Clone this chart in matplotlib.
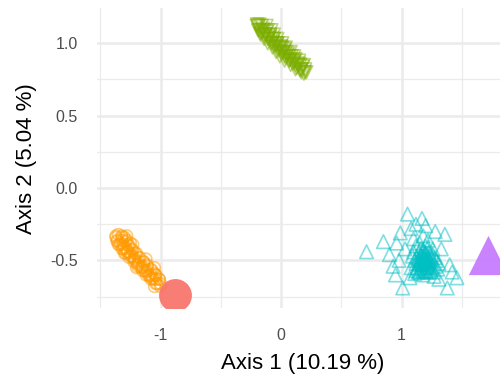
import matplotlib
matplotlib.use("Agg")
import matplotlib.pyplot as plt
from matplotlib.ticker import MultipleLocator

plt.rcParams['font.family'] = ['Liberation Sans', 'DejaVu Sans']

# ordination scores
green_x = [-0.19, -0.17, -0.18, -0.15, -0.14, -0.16, -0.12, -0.11, -0.13, -0.09, -0.08,
           -0.10, -0.06, -0.05, -0.07, -0.03, -0.02, -0.04, 0.00, 0.01, -0.01, 0.03,
           0.04, 0.02, 0.06, 0.07, 0.05, 0.09, 0.10, 0.08, 0.12, 0.13, 0.11, 0.15,
           0.16, 0.14, 0.18, 0.20, 0.17, -0.20, -0.18, 0.19,
           -0.20, -0.16, -0.12, -0.19, -0.15, -0.11, -0.08, -0.17, -0.13, -0.09, -0.06,
           -0.14, -0.10, -0.06, -0.03, -0.11, -0.07, -0.03, 0.01, -0.07, -0.03, 0.01,
           0.04, -0.04, 0.00, 0.04, 0.08, -0.01, 0.03, 0.07, 0.11, 0.03, 0.07, 0.11,
           0.15, 0.08, 0.12, 0.16, 0.19, 0.12, 0.16, 0.20, 0.17, 0.21]
green_y = [1.12, 1.07, 1.13, 1.10, 1.05, 1.08, 1.08, 1.03, 1.06, 1.05, 1.00, 1.04,
           1.03, 0.98, 1.01, 1.00, 0.95, 0.99, 0.98, 0.93, 0.97, 0.96, 0.90, 0.94,
           0.93, 0.88, 0.92, 0.91, 0.86, 0.89, 0.89, 0.83, 0.87, 0.86, 0.81, 0.85,
           0.84, 0.80, 0.82, 1.13, 1.09, 0.79,
           1.12, 1.12, 1.12, 1.09, 1.09, 1.09, 1.09, 1.06, 1.06, 1.06, 1.06,
           1.03, 1.03, 1.03, 1.03, 1.00, 1.00, 1.00, 1.00, 0.97, 0.97, 0.97,
           0.97, 0.94, 0.94, 0.94, 0.94, 0.91, 0.91, 0.91, 0.91, 0.88, 0.88, 0.88,
           0.88, 0.85, 0.85, 0.85, 0.85, 0.82, 0.82, 0.82, 0.80, 0.80]

orange_x = [-1.37, -1.35, -1.36, -1.33, -1.32, -1.34, -1.30, -1.29, -1.31, -1.27, -1.26,
            -1.28, -1.24, -1.23, -1.25, -1.21, -1.20, -1.22, -1.18, -1.17, -1.19, -1.15,
            -1.14, -1.16, -1.12, -1.11, -1.13, -1.09, -1.08, -1.10, -1.06, -1.05, -1.07,
            -1.03, -1.01, -1.04, -1.00, -1.30, -1.25, -1.12, -1.30, -1.20, -1.05,
            -1.37, -1.32, -1.28, -1.36, -1.32, -1.28, -1.35, -1.31, -1.27, -1.23,
            -1.32, -1.28, -1.24, -1.29, -1.25, -1.21, -1.26, -1.22, -1.18, -1.22,
            -1.18, -1.14, -1.19, -1.15, -1.11, -1.15, -1.11, -1.07, -1.12, -1.08,
            -1.04, -1.08, -1.04, -1.01, -1.04, -1.00, -1.05]
orange_y = [-0.34, -0.32, -0.37, -0.38, -0.34, -0.39, -0.41, -0.37, -0.42, -0.44, -0.40,
            -0.44, -0.47, -0.43, -0.47, -0.50, -0.45, -0.49, -0.53, -0.48, -0.52, -0.55,
            -0.51, -0.55, -0.58, -0.53, -0.57, -0.61, -0.56, -0.60, -0.63, -0.59, -0.62,
            -0.66, -0.63, -0.60, -0.68, -0.34, -0.38, -0.49, -0.45, -0.55, -0.55,
            -0.33, -0.33, -0.33, -0.36, -0.36, -0.36, -0.39, -0.39, -0.39, -0.39,
            -0.42, -0.42, -0.42, -0.45, -0.45, -0.45, -0.48, -0.48, -0.48, -0.51,
            -0.51, -0.51, -0.54, -0.54, -0.54, -0.57, -0.57, -0.57, -0.60, -0.60,
            -0.60, -0.63, -0.63, -0.63, -0.66, -0.66, -0.68]

teal_x = [0.71, 0.85, 0.90, 0.93, 0.96, 0.99, 1.05, 1.17, 1.28, 1.36, 1.01, 1.38,
          1.46, 1.40, 1.07, 1.12, 1.08, 1.20, 1.33, 1.42, 0.98, 1.03, 1.31, 0.95,
          1.10, 1.12, 1.15, 1.18, 1.20, 1.22, 1.14, 1.17, 1.20, 1.23, 1.26, 1.11,
          1.14, 1.17, 1.20, 1.23, 1.26, 1.29, 1.08, 1.12, 1.15, 1.18, 1.21, 1.24,
          1.27, 1.30, 1.10, 1.16, 1.19, 1.22, 1.25, 1.28, 1.13, 1.16, 1.19, 1.21,
          1.24, 1.18, 1.15, 1.22, 1.09, 1.31, 1.20, 1.17, 1.26, 1.13, 1.23, 1.18,
          1.11, 1.27, 1.16, 1.19, 1.21, 1.14, 1.24, 1.18, 1.20, 1.17, 1.22, 1.15,
          1.25, 1.19, 1.12, 1.28, 1.21, 1.16, 1.23, 1.18, 1.20, 1.14]
teal_y = [-0.44, -0.37, -0.46, -0.54, -0.38, -0.31, -0.18, -0.21, -0.30, -0.32, -0.69, -0.69,
          -0.62, -0.53, -0.62, -0.25, -0.28, -0.26, -0.42, -0.58, -0.50, -0.42, -0.63, -0.60,
          -0.35, -0.40, -0.38, -0.33, -0.40, -0.36, -0.45, -0.47, -0.45, -0.44, -0.46, -0.50,
          -0.52, -0.53, -0.51, -0.52, -0.53, -0.50, -0.55, -0.57, -0.58, -0.57, -0.58, -0.57,
          -0.58, -0.56, -0.44, -0.42, -0.49, -0.48, -0.49, -0.54, -0.48, -0.56, -0.55, -0.54,
          -0.51, -0.43, -0.50, -0.41, -0.47, -0.52, -0.57, -0.50, -0.42, -0.55, -0.55, -0.60,
          -0.59, -0.61, -0.46, -0.47, -0.50, -0.49, -0.47, -0.52, -0.53, -0.55, -0.51, -0.53,
          -0.55, -0.44, -0.52, -0.48, -0.45, -0.51, -0.58, -0.48, -0.49, -0.58]

red_centroid = (-0.88, -0.74)
purple_centroid = (1.72, -0.46)

fig = plt.figure(figsize=(5, 3.78), dpi=100)
ax = fig.add_axes([0.194, 0.185, 0.85, 0.794])

ax.scatter(green_x, green_y, marker='v', s=85, facecolors='none',
           edgecolors='#7CAE00', linewidths=1.2, alpha=0.5)
ax.scatter(orange_x, orange_y, marker='o', s=70, facecolors='none',
           edgecolors='#FF9A00', linewidths=1.2, alpha=0.5)
ax.scatter(teal_x, teal_y, marker='^', s=95, facecolors='none',
           edgecolors='#00BFC4', linewidths=1.2, alpha=0.5)
ax.scatter([red_centroid[0]], [red_centroid[1]], marker='o', s=560,
           color='#F8766D', alpha=0.95, linewidths=0)
ax.scatter([purple_centroid[0]], [purple_centroid[1]], marker='^', s=800,
           color='#C77CFF', alpha=0.95, linewidths=0)

ax.set_xlim(-1.527, 2.0)
ax.set_ylim(-0.829, 1.244)

ax.xaxis.set_major_locator(MultipleLocator(1))
ax.xaxis.set_minor_locator(MultipleLocator(0.5))
ax.yaxis.set_major_locator(MultipleLocator(0.5))
ax.yaxis.set_minor_locator(MultipleLocator(0.25))
ax.set_xticks([-1, 0, 1])
ax.set_xticklabels(['-1', '0', '1'])
ax.set_yticks([-0.5, 0.0, 0.5, 1.0])
ax.set_yticklabels(['-0.5', '0.0', '0.5', '1.0'])

ax.grid(which='major', color='#EBEBEB', linewidth=1.8)
ax.grid(which='minor', color='#EBEBEB', linewidth=0.9)
ax.set_axisbelow(True)
for sp in ax.spines.values():
    sp.set_visible(False)
ax.tick_params(which='both', length=0, labelsize=11.5, labelcolor='#4D4D4D')
ax.tick_params(axis='y', pad=14)
ax.tick_params(axis='x', pad=14)

fig.text(303 / 500, 1 - 363 / 378, 'Axis 1 (10.19 %)', ha='center', va='center', fontsize=16)
fig.text(27 / 500, 1 - 159 / 378, 'Axis 2 (5.04 %)', ha='center', va='center',
         rotation=90, fontsize=16)

fig.savefig('out.png', dpi=100)
